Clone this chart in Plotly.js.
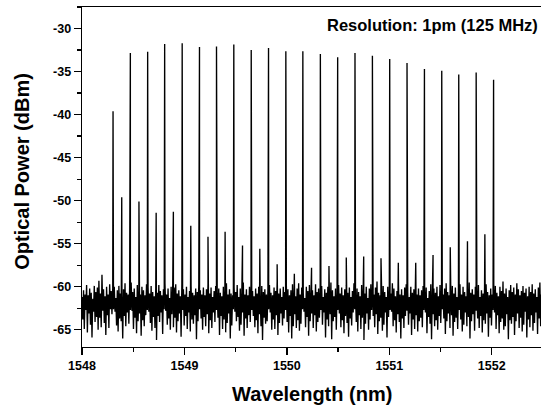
<!DOCTYPE html>
<html>
<head>
<meta charset="utf-8">
<script src="https://cdn.plot.ly/plotly-3.0.1.min.js"></script>
<style>
html,body{margin:0;padding:0;overflow:hidden;background:#fff;}
#chart{width:545px;height:409px;}
</style>
</head>
<body>
<div id="chart"></div>
<script>
// ---- data ----
const xTickVals = [1548, 1549, 1550, 1551, 1552];
const xTickText = ['1548', '1549', '1550', '1551', '1552'];
const yTickVals = [-65, -60, -55, -50, -45, -40, -35, -30];
const yTickText = ['-65', '-60', '-55', '-50', '-45', '-40', '-35', '-30'];

// comb lines (nm, dBm)
const peakWl = [1548.303, 1548.472, 1548.641, 1548.807, 1548.978, 1549.147, 1549.313, 1549.482,
  1549.652, 1549.821, 1549.990, 1550.156, 1550.327, 1550.496, 1550.665, 1550.835, 1551.004,
  1551.173, 1551.343, 1551.512, 1551.678, 1551.848, 1552.018];
const peakDbm = [-39.6, -32.85, -32.7, -31.8, -31.7, -32.15, -32.1, -31.85, -32.5, -32.25, -32.65,
  -32.65, -32.95, -33.35, -32.85, -33.15, -33.55, -34.0, -34.7, -34.9, -35.35, -35.1, -35.95];

// weak side lines between comb lines
const sideWl = [1548.388, 1548.556, 1548.724, 1548.892, 1549.062, 1549.230, 1549.397, 1549.567,
  1549.736, 1549.905, 1550.073, 1550.241, 1550.411, 1550.580, 1550.750, 1550.919, 1551.088,
  1551.258, 1551.427, 1551.595, 1551.763, 1551.933];
const sideDbm = [-49.6, -50.1, -51.4, -51.3, -52.9, -54.2, -53.6, -55.2, -55.6, -57.4, -58.5,
  -57.8, -57.6, -56.6, -56.5, -56.7, -57.2, -57.2, -56.3, -55.4, -54.7, -53.9];

// noise floor samples, first at 1548.0 nm, one every 0.0075 nm
const noiseStartWl = 1548.0;
const noiseStepWl = 0.0075;
const noiseDbm = [
-61.2,-63.8,-60.4,-64.9,-60.9,-62.7,-59.8,-65.3,-61.0,-63.1,-60.2,-64.4,-60.7,-65.9,-61.4,-62.9,-59.9,-64.1,-60.6,-63.5,
-60.1,-65.0,-59.3,-63.6,-60.8,-64.7,-58.6,-62.8,-60.3,-64.2,-61.1,-65.6,-60.0,-63.3,-60.9,-64.8,-59.7,-62.6,-60.5,-63.2,
-60.2,-62.6,-60.0,-62.9,-61.3,-64.5,-60.4,-65.2,-59.9,-63.7,-60.8,-64.0,-61.0,-66.0,-60.3,-63.4,-59.6,-64.6,-60.7,-63.0,
-60.9,-64.3,-60.1,-62.7,-59.5,-62.8,-60.6,-64.9,-60.2,-63.6,-61.2,-65.4,-59.8,-64.0,-60.5,-63.1,-60.9,-65.7,-60.0,-63.9,
-60.4,-64.6,-61.0,-63.3,-59.7,-62.7,-60.1,-62.9,-60.8,-64.2,-59.9,-65.1,-60.6,-63.5,-61.1,-64.8,-60.2,-66.2,-60.7,-63.4,
-59.8,-64.1,-60.5,-63.0,-61.0,-65.5,-60.3,-62.6,-59.6,-62.8,-60.9,-64.4,-60.2,-63.7,-61.3,-65.0,-60.0,-63.2,-60.6,-64.7,
-60.1,-63.6,-59.7,-65.3,-60.8,-64.0,-60.4,-63.1,-61.1,-65.8,-59.6,-62.7,-60.3,-64.5,-60.9,-63.4,-60.0,-64.9,-61.2,-63.0,
-60.5,-65.2,-59.9,-63.8,-60.7,-64.3,-61.0,-63.3,-60.2,-66.1,-60.6,-64.0,-59.8,-62.6,-60.4,-63.7,-60.9,-65.0,-60.1,-63.5,
-61.0,-64.6,-60.3,-63.2,-59.7,-65.4,-60.8,-63.9,-60.1,-64.8,-61.2,-63.0,-60.5,-64.1,-59.9,-62.7,-60.6,-63.6,-60.2,-65.6,
-60.7,-63.4,-61.1,-64.9,-60.0,-63.8,-60.4,-65.3,-59.6,-64.2,-60.9,-63.1,-60.3,-66.0,-60.8,-64.5,-61.0,-62.6,-60.1,-62.9,
-60.6,-64.0,-59.8,-63.5,-61.2,-65.1,-60.2,-64.4,-60.7,-63.0,-59.5,-65.7,-60.9,-63.7,-60.3,-64.8,-61.0,-63.3,-60.0,-64.1,
-59.7,-62.7,-60.5,-63.4,-61.1,-64.7,-60.2,-63.9,-60.8,-65.4,-60.0,-63.2,-61.3,-64.6,-59.9,-66.2,-60.6,-63.6,-60.3,-64.3,
-60.9,-64.0,-60.4,-62.6,-59.8,-63.0,-60.7,-65.0,-61.0,-63.8,-60.1,-64.9,-60.5,-63.3,-59.4,-65.6,-60.8,-64.2,-60.2,-63.1,
-61.2,-64.5,-60.0,-63.7,-60.6,-62.7,-59.9,-64.1,-60.3,-65.3,-61.0,-63.4,-60.4,-66.0,-59.7,-64.6,-60.8,-63.2,-61.1,-64.8,
-60.2,-63.9,-59.6,-65.1,-60.9,-64.3,-60.1,-62.6,-60.7,-62.9,-61.3,-64.7,-60.0,-63.5,-60.5,-65.7,-59.8,-64.0,-60.9,-63.1,
-60.4,-64.8,-61.0,-63.3,-59.7,-65.2,-60.6,-64.1,-60.2,-63.6,-60.8,-62.7,-59.9,-64.4,-61.2,-63.0,-60.3,-65.9,-60.7,-63.8,
-60.0,-64.6,-60.9,-63.2,-59.5,-66.1,-60.4,-64.0,-61.1,-63.5,-60.2,-65.0,-60.6,-62.7,-59.8,-63.1,-60.8,-64.7,-60.1,-63.9,
-61.0,-65.4,-60.3,-63.4,-59.9,-64.2,-60.7,-65.8,-60.1,-63.7,-61.2,-64.5,-60.5,-63.0,-59.6,-62.6,-60.9,-64.1,-60.2,-65.2,
-60.6,-63.3,-61.1,-64.9,-59.8,-63.6,-60.4,-66.2,-60.8,-64.3,-60.0,-63.1,-61.3,-65.0,-60.2,-63.8,-59.7,-62.7,-60.5,-63.4,
-60.9,-64.7,-60.1,-63.2,-59.4,-65.5,-60.7,-64.0,-61.0,-63.6,-60.3,-65.1,-59.9,-64.4,-60.6,-63.0,-61.2,-65.9,-60.0,-63.5,
-60.4,-62.7,-60.8,-62.9,-59.6,-64.6,-60.2,-63.9,-61.1,-65.3,-60.5,-63.2,-59.8,-64.1,-60.9,-66.0,-60.3,-63.7,-61.0,-64.8,
-60.1,-63.4,-59.7,-62.8,-60.6,-64.4,-61.2,-63.1,-60.0,-65.6,-60.7,-63.8,-60.3,-64.9,-59.5,-63.3,-60.9,-65.2,-60.2,-64.0,
-61.0,-63.6,-60.4,-64.7,-59.9,-62.7,-60.6,-63.0,-60.1,-65.4,-61.3,-63.5,-60.5,-64.3,-59.7,-66.1,-60.8,-63.2,-60.2,-64.6,
-60.7,-63.9,-60.0,-65.0,-61.1,-63.4,-59.8,-64.2,-60.4,-62.6,-60.9,-63.7,-60.2,-65.5,-59.6,-64.0,-60.6,-63.1,-61.0,-64.8,
-60.3,-63.3,-59.9,-65.7,-60.8,-64.1,-60.1,-63.6,-61.2,-64.9,-60.5,-62.7,-59.7,-63.8,-60.9,-65.2,-60.0,-64.4,-60.6,-63.0,
-61.1,-64.6,-60.2,-63.5,-59.5,-66.0,-60.7,-64.0,-60.3,-63.2,-60.9,-65.1,-60.0,-62.8,-60.5,-63.7,-59.8,-64.8,-61.2,-63.4,
-60.4,-65.3,-60.8,-63.9,-60.1,-64.3,-59.7,-63.1,-60.6,-65.8,-61.0,-63.6,-60.2,-64.5,-60.9,-62.7,-60.3,-63.0,-59.9,-64.9,
-60.7,-63.3,-61.1,-65.4,-60.0,-64.1,-60.5,-63.7,-59.4,-65.0,-60.8,-64.6,-60.2,-63.2,-61.2,-66.1,-60.4,-63.9,-59.8,-64.3,
-60.6,-63.5,-60.1,-65.6,-60.9,-64.0,-59.6,-63.1,-60.3,-64.8,-61.0,-63.6,-60.5,-65.2,-59.9,-64.4,-60.7,-62.9,-60.2,-65.9,
-61.1,-63.8,-60.0,-64.7,-60.6,-63.3,-59.7,-65.1,-60.8,-64.2,-60.3,-63.0,-61.2,-65.5,-60.1,-63.7,-59.5,-64.6,-60.9,-63.4,
-60.4
];

// ---- build the single spectrum trace (noise + lines), sorted by wavelength ----
const pts = [];
noiseDbm.forEach((v, i) => pts.push([noiseStartWl + i * noiseStepWl, v]));
peakWl.forEach((w, i) => pts.push([w, peakDbm[i]]));
sideWl.forEach((w, i) => pts.push([w, sideDbm[i]]));
pts.sort((a, b) => a[0] - b[0]);

const FONT = 'Liberation Sans, Arial, Helvetica, sans-serif';

const trace = {
  type: 'scatter',
  mode: 'lines',
  x: pts.map(p => p[0]),
  y: pts.map(p => p[1]),
  line: {color: '#000', width: 1.35, simplify: false},
  hoverinfo: 'x+y',
  showlegend: false
};

const axisCommon = {
  showline: true, linecolor: '#000', linewidth: 1.4, mirror: true,
  showgrid: false, zeroline: false,
  ticks: 'outside', ticklen: 7, tickwidth: 1.3, tickcolor: '#000',
  tickfont: {family: FONT, size: 12.5, weight: 'bold', color: '#000'}
};

const layout = {
  width: 545, height: 409,
  margin: {l: 82, r: 0, t: 7, b: 62},
  paper_bgcolor: '#fff', plot_bgcolor: '#fff',
  font: {family: FONT, color: '#000'},
  xaxis: Object.assign({}, axisCommon, {
    range: [1548, 1552.52],
    tickmode: 'array', tickvals: xTickVals, ticktext: xTickText,
    minor: {ticks: 'outside', ticklen: 4, tickwidth: 1.3, tickcolor: '#000', dtick: 0.5, tick0: 1548, showgrid: false}
  }),
  yaxis: Object.assign({}, axisCommon, {
    range: [-67, -27.5],
    tickmode: 'array', tickvals: yTickVals, ticktext: yTickText,
    minor: {ticks: 'outside', ticklen: 4, tickwidth: 1.3, tickcolor: '#000', dtick: 2.5, tick0: -65, showgrid: false}
  }),
  annotations: [
    {text: 'Resolution: 1pm (125 MHz)', xref: 'paper', yref: 'paper', x: 0.99, y: 0.9485,
     xanchor: 'right', yanchor: 'middle', showarrow: false,
     font: {family: FONT, size: 16.5, weight: 'bold', color: '#000'}},
    {text: 'Wavelength (nm)', xref: 'paper', yref: 'paper', x: 0.497, y: -0.138,
     xanchor: 'center', yanchor: 'middle', showarrow: false,
     font: {family: FONT, size: 20, weight: 'bold', color: '#000'}},
    {text: 'Optical Power (dBm)', xref: 'paper', yref: 'paper', x: -0.13, y: 0.5176,
     xanchor: 'center', yanchor: 'middle', textangle: -90, showarrow: false,
     font: {family: FONT, size: 20, weight: 'bold', color: '#000'}}
  ]
};

Plotly.newPlot('chart', [trace], layout, {displayModeBar: false, staticPlot: true});
</script>
</body>
</html>
